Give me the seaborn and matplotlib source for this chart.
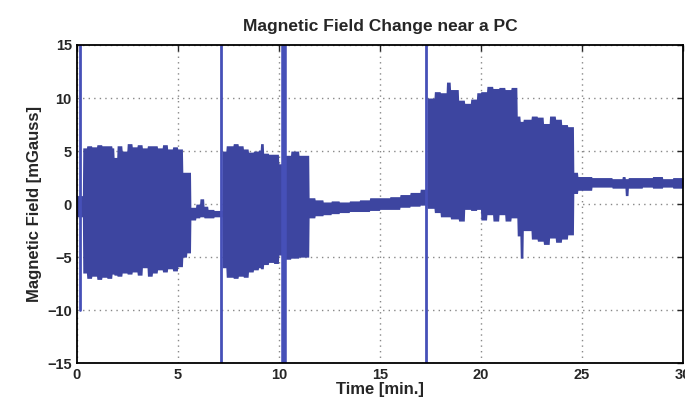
import numpy as np
import pandas as pd
import matplotlib
matplotlib.use("Agg")
import matplotlib.pyplot as plt
import seaborn as sns

time_min = [0.0, 0.3, 0.5, 0.75, 1.0, 1.25, 1.5, 1.75, 1.85, 2.0, 2.25, 2.5, 2.75,
            3.0, 3.25, 3.5, 3.75, 4.0, 4.25, 4.5, 4.75, 5.0, 5.25, 5.45,
            5.65, 5.9, 6.1, 6.3, 6.5, 6.8,
            7.2, 7.4, 7.75, 8.0, 8.25, 8.5, 8.75, 9.0, 9.1, 9.25, 9.5, 9.75, 10.0,
            10.3, 10.6, 11.0,
            11.5, 11.8, 12.2, 12.6, 13.0, 13.5, 14.0, 14.5, 15.0, 15.5, 16.0, 16.5, 17.0,
            17.35, 17.7, 18.0, 18.3, 18.5, 18.9, 19.2, 19.5, 19.8, 20.0, 20.3, 20.6, 20.9,
            21.2, 21.5,
            21.8, 21.95, 22.1, 22.5, 22.8, 23.1, 23.4, 23.7, 24.0, 24.3,
            24.6, 24.8, 25.5, 26.0, 26.5, 27.0, 27.15, 27.3, 28.0, 28.5, 29.0, 29.5, 30.0]
upper = [0.8, 5.3, 5.5, 5.4, 5.6, 5.5, 5.5, 5.3, 4.4, 5.5, 5.0, 5.7, 5.4,
         5.6, 5.3, 5.5, 5.5, 5.3, 5.6, 5.2, 5.4, 5.2, 3.0, 3.0,
         -0.3, 0.0, 0.5, -0.2, -0.5, -0.6,
         5.0, 5.5, 5.7, 5.5, 5.2, 4.9, 5.0, 5.1, 5.7, 4.8, 4.7, 4.7, 3.8,
         4.6, 5.0, 4.6,
         0.6, 0.4, 0.2, 0.3, 0.2, 0.3, 0.4, 0.6, 0.6, 0.7, 0.9, 1.1, 1.4,
         10.0, 10.6, 10.5, 11.5, 10.8, 9.8, 9.5, 9.9, 10.5, 10.6, 11.1, 10.9, 11.0,
         10.8, 11.0,
         8.3, 7.8, 8.0, 8.3, 8.2, 7.6, 8.3, 8.0, 7.5, 7.3,
         3.0, 2.6, 2.5, 2.5, 2.4, 2.6, 2.4, 2.5, 2.5, 2.6, 2.4, 2.5, 2.5]
lower = [-1.2, -6.5, -7.0, -6.8, -7.1, -6.9, -7.0, -6.6, -6.7, -6.8, -6.5, -6.6, -6.4,
         -6.7, -6.0, -6.8, -6.5, -6.2, -6.4, -6.1, -6.3, -5.9, -5.0, -4.6,
         -1.5, -1.3, -1.2, -1.3, -1.3, -1.2,
         -6.0, -6.9, -7.0, -6.8, -6.9, -6.4, -6.2, -6.0, -6.1, -5.7, -5.5, -5.6, -4.8,
         -5.2, -5.1, -5.0,
         -1.3, -1.1, -1.0, -0.9, -0.8, -0.7, -0.7, -0.6, -0.5, -0.5, -0.3, -0.2, -0.1,
         -0.4, -0.8, -1.2, -1.2, -1.4, -1.6, -0.5, -0.6, -0.5, -1.5, -1.0, -1.6, -1.0,
         -1.6, -1.3,
         -3.0, -5.1, -2.5, -3.3, -3.5, -3.8, -3.2, -3.6, -3.3, -2.9,
         1.0, 1.3, 1.6, 1.6, 1.5, 1.5, 0.8, 1.5, 1.6, 1.5, 1.6, 1.5, 1.7]

# short full-scale spikes
spike_time = [0.15, 7.15, 10.25, 17.3]
spike_low = [-10.0, -15.0, -15.0, -15.0]
spike_high = [15.0, 15.0, 15.0, 15.0]
spike_width = [2.0, 2.0, 4.0, 2.0]

sns.set_style("white")
plt.rcParams['font.family'] = ['Liberation Sans', 'DejaVu Sans']

df = pd.DataFrame({"time": time_min, "upper": upper, "lower": lower})
color = '#3d45a0'

# hold each value until just before the next time point (short ramp instead of a vertical edge)
t = df["time"].to_numpy()
t_hold = np.column_stack([t[:-1], t[1:] - 0.02]).ravel()
t_hold = np.append(t_hold, t[-1])
up_hold = np.append(np.repeat(df["upper"].to_numpy()[:-1], 2), df["upper"].iloc[-1])
lo_hold = np.append(np.repeat(df["lower"].to_numpy()[:-1], 2), df["lower"].iloc[-1])

spikes = pd.DataFrame({
    "time": np.repeat(spike_time, 2),
    "value": np.ravel(np.column_stack([spike_low, spike_high])),
    "spike": np.repeat(np.arange(len(spike_time)), 2),
    "width": np.repeat(spike_width, 2),
})

fig, ax = plt.subplots(figsize=(6.85, 4.09), dpi=100)
fig.subplots_adjust(left=0.112, right=0.997, bottom=0.112, top=0.89)

ax.fill_between(t_hold, lo_hold, up_hold, color=color, lw=0)
sns.lineplot(data=spikes, x="time", y="value", units="spike", size="width",
             sizes=(2.0, 4.0), estimator=None, sort=False, color='#4650b8',
             legend=False, ax=ax)

ax.set_xlim(0, 30)
ax.set_ylim(-15, 15)
ax.set_xticks(range(0, 31, 5))
ax.set_yticks(range(-15, 16, 5))
ax.grid(True, ls=(0, (1, 3)), color='#888888', lw=1.0)
ax.tick_params(direction='in', top=True, right=True, length=4, width=1, labelsize=10.5)
for lab in ax.get_xticklabels() + ax.get_yticklabels():
    lab.set_fontweight('bold')
for s in ax.spines.values():
    s.set_color('black')
    s.set_linewidth(1.3)

ax.set_xlabel('Time [min.]', fontsize=12, fontweight='bold', labelpad=0)
ax.set_ylabel('Magnetic Field [mGauss]', fontsize=12, fontweight='bold')
ax.set_title('Magnetic Field Change near a PC', fontsize=12.5, fontweight='bold', pad=10)

plt.savefig('out.png', dpi=100)
